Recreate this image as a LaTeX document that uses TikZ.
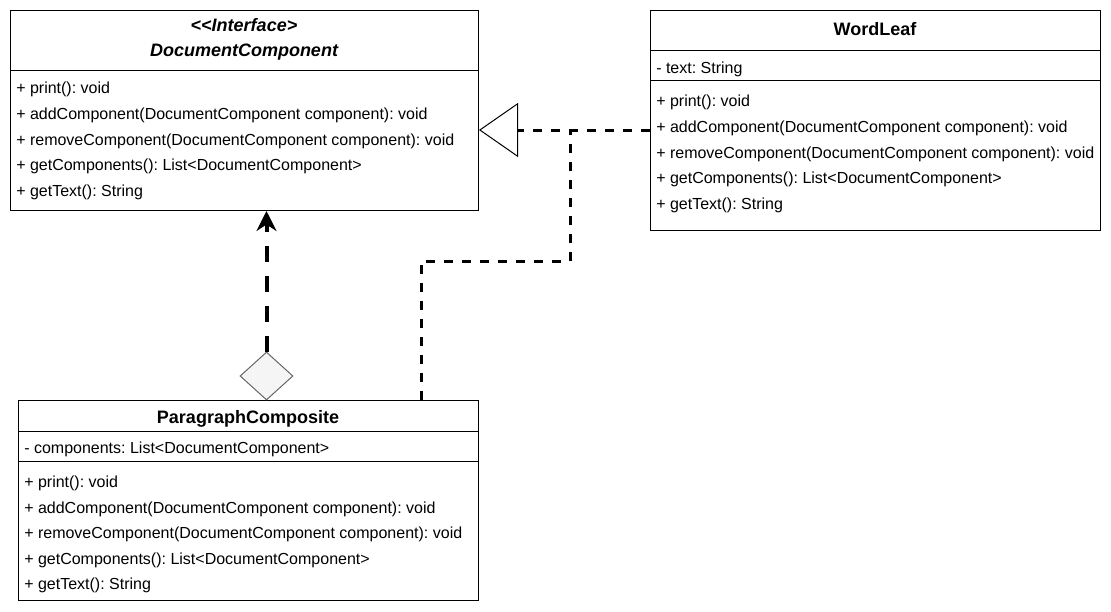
\documentclass[tikz,border=0pt]{standalone}
\usepackage{fontspec}
\setmainfont{Liberation Sans}
\usetikzlibrary{arrows.meta,shapes.geometric}
\usetikzlibrary{positioning}
\definecolor{aggfill}{HTML}{F5F5F5}
\definecolor{aggdraw}{HTML}{666666}
\tikzstyle{classbox} = [draw, line width=0.75pt, inner sep=0pt, anchor=north west]
\tikzstyle{member} = [anchor=west, inner sep=0pt, yshift=-1.5pt, font=\fontsize{12}{14}\selectfont]
\tikzstyle{line} = [draw, line width=2.25pt, dash pattern=on 6.75pt off 6.75pt]
\frenchspacing

\begin{document}
\begin{tikzpicture}[x=0.75pt, y=-0.75pt,
	title/.style={inner sep=0pt, font=\fontsize{13.5}{16}\selectfont\bfseries},
	sep/.style={line width=0.75pt},
	aggr/.style={diamond, draw=aggdraw, fill=aggfill, line width=0.75pt,
		inner sep=0pt, minimum width=39.75pt, minimum height=36pt}]
    \useasboundingbox (0,0) rectangle (1111,611);
    %% Classes
    \node [classbox, minimum width=351pt, minimum height=150pt] (DC) at (10,10) {};
    \node [classbox, minimum width=337.5pt, minimum height=165pt] (WL) at (650,10) {};
    \node [classbox, minimum width=345pt, minimum height=150pt] (PC) at (18,400) {};
    \draw [sep] (10,70) -- (478,70);
    \draw [sep] (650,50) -- (1100,50);
    \draw [sep] (650,80) -- (1100,80);
    \draw [sep] (18,431) -- (478,431);
    \draw [sep] (18,461) -- (478,461);
    %% DocumentComponent
    \node [title, font=\fontsize{13.5}{16}\selectfont\bfseries\itshape] (DCs) at (244,25) {{<}{<}Interface{>}};
    \node [title, font=\fontsize{13.5}{16}\selectfont\bfseries\itshape] (DCt) at (244,52.5) {DocumentComponent};
    \node [member] (DC1) at (16,87) {+ print(): void};
    \node [member] (DC2) at (16,113) {+ addComponent(DocumentComponent component): void};
    \node [member] (DC3) at (16,139) {+ removeComponent(DocumentComponent component): void};
    \node [member] (DC4) at (16,164) {+ getComponents(): List<DocumentComponent>};
    \node [member] (DC5) at (16,190) {+ getText(): String};
    %% WordLeaf
    \node [title] (WLt) at (875,29) {WordLeaf};
    \node [member] (WLa) at (656,67) {- text: String};
    \node [member] (WL1) at (656,100) {+ print(): void};
    \node [member] (WL2) at (656,126) {+ addComponent(DocumentComponent component): void};
    \node [member] (WL3) at (656,152) {+ removeComponent(DocumentComponent component): void};
    \node [member] (WL4) at (656,177) {+ getComponents(): List<DocumentComponent>};
    \node [member] (WL5) at (656,203) {+ getText(): String};
    %% ParagraphComposite
    \node [title] (PCt) at (248,418.5) {ParagraphComposite};
    \node [member] (PCa) at (24,447) {- components: List<DocumentComponent>};
    \node [member] (PC1) at (24,481) {+ print(): void};
    \node [member] (PC2) at (24,507) {+ addComponent(DocumentComponent component): void};
    \node [member] (PC3) at (24,532) {+ removeComponent(DocumentComponent component): void};
    \node [member] (PC4) at (24,558) {+ getComponents(): List<DocumentComponent>};
    \node [member] (PC5) at (24,583) {+ getText(): String};
    %% Aggregation
    \node [aggr] (agg) at (266.5,376) {};
    \path [draw, line width=3pt, dash pattern=on 12pt off 10.5pt,
        -{Stealth[length=15pt, width=15pt]}] (agg.north) -- (agg.north |- DC.south);
    %% Realization
    \coordinate (jn) at (570,130);
    \coordinate (k1) at (421,261);
    \coordinate (k2) at (570,261);
    \path [line, -{Triangle[open, length=29.25pt, width=40.5pt, line width=0.75pt]}]
        (WL.west |- jn) -- (DC.east |- jn);
    \path [line] (k1 |- PC.north) -- (k1) -- (k2) -- (jn);
\end{tikzpicture}
\end{document}
